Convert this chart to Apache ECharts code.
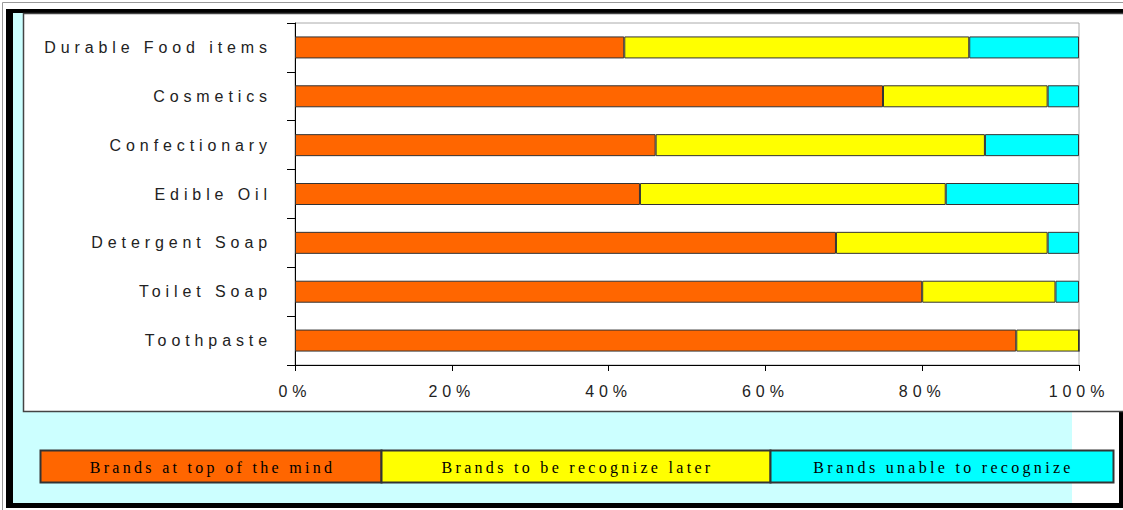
<!DOCTYPE html>
<html>
<head>
<meta charset="utf-8">
<script src="https://cdn.jsdelivr.net/npm/echarts@6/dist/echarts.min.js"></script>
<style>
  html, body { margin: 0; padding: 0; background: #fff; }
  #chart { width: 1123px; height: 510px; }
  #chart text { letter-spacing: 4.9px; }
  #chart text[style*="Serif"] { letter-spacing: 3.3px; }
</style>
</head>
<body>
<div id="chart"></div>
<script>
const categories = ['Durable Food items', 'Cosmetics', 'Confectionary', 'Edible Oil', 'Detergent Soap', 'Toilet Soap', 'Toothpaste'];
const seriesNames = ['Brands at top of the mind', 'Brands to be recognize later', 'Brands unable to recognize'];
const topOfMind = [42, 75, 46, 44, 69, 80, 92];
const recognizeLater = [44, 21, 42, 39, 27, 17, 8];
const unableToRecognize = [14, 4, 12, 17, 4, 3, 0];
const xTicks = [0, 20, 40, 60, 80, 100];
const colors = ['#ff6600', '#ffff00', '#00ffff'];

const chart = echarts.init(document.getElementById('chart'), null, { renderer: 'svg' });

// legend boxes (table-style legend under the plot)
const legendBoxes = [[40, 381], [381, 770], [770, 1113]];
const legendGraphics = [];
legendBoxes.forEach((b, i) => {
  legendGraphics.push({
    type: 'rect', z: 5,
    shape: { x: b[0] + 0.5, y: 450.5, width: b[1] - b[0], height: 32 },
    style: { fill: colors[i], stroke: '#333', lineWidth: 2 }
  });
  legendGraphics.push({
    type: 'text', z: 6,
    x: (b[0] + b[1]) / 2 + 2, y: 467,
    style: {
      text: seriesNames[i], fill: '#000', align: 'center', verticalAlign: 'middle',
      font: '16px "Liberation Serif"'
    }
  });
});

const sans = '"Liberation Sans", Arial, sans-serif';

const option = {
  animation: false,
  backgroundColor: '#fff',
  graphic: [
    { type: 'rect', z: -20, shape: { x: 2.5, y: 2.5, width: 1130, height: 530 }, style: { fill: 'none', stroke: '#999', lineWidth: 1 } },
    { type: 'rect', z: -19, shape: { x: 6, y: 9, width: 1117, height: 499 }, style: { fill: '#000' } },
    { type: 'rect', z: -18, shape: { x: 13, y: 13, width: 1106, height: 490 }, style: { fill: '#fff' } },
    { type: 'rect', z: -17, shape: { x: 13, y: 13, width: 1059, height: 490 }, style: { fill: '#ccffff' } },
    { type: 'rect', z: -16, shape: { x: 23.5, y: 13.5, width: 1110, height: 398 }, style: { fill: '#fff', stroke: '#444', lineWidth: 1.5 } },
    ...legendGraphics
  ],
  grid: {
    left: 295, right: 44, top: 23, bottom: 145,
    show: true, borderColor: '#aaa', borderWidth: 1, backgroundColor: 'transparent'
  },
  xAxis: {
    type: 'value', min: 0, max: 100, interval: 20,
    axisLine: { show: true, lineStyle: { color: '#000', width: 1 } },
    axisTick: { show: true, length: 6, lineStyle: { color: '#000' } },
    splitLine: { show: false },
    axisLabel: {
      margin: 18, fontSize: 16, color: '#222', fontFamily: sans,
      formatter: v => (xTicks.includes(v) ? v + '%' : '')
    }
  },
  yAxis: {
    type: 'category', data: categories, inverse: true,
    axisLine: { show: true, lineStyle: { color: '#000', width: 1 } },
    axisTick: { show: true, length: 8, lineStyle: { color: '#000' } },
    axisLabel: { margin: 23, fontSize: 16, color: '#222', fontFamily: sans }
  },
  series: [
    { name: seriesNames[0], type: 'bar', stack: 'all', barWidth: 22, data: topOfMind,
      itemStyle: { color: colors[0], borderColor: '#333', borderWidth: 1 } },
    { name: seriesNames[1], type: 'bar', stack: 'all', barWidth: 22, data: recognizeLater,
      itemStyle: { color: colors[1], borderColor: '#333', borderWidth: 1 } },
    { name: seriesNames[2], type: 'bar', stack: 'all', barWidth: 22, data: unableToRecognize,
      itemStyle: { color: colors[2], borderColor: '#333', borderWidth: 1 } }
  ]
};
chart.setOption(option);
</script>
</body>
</html>
